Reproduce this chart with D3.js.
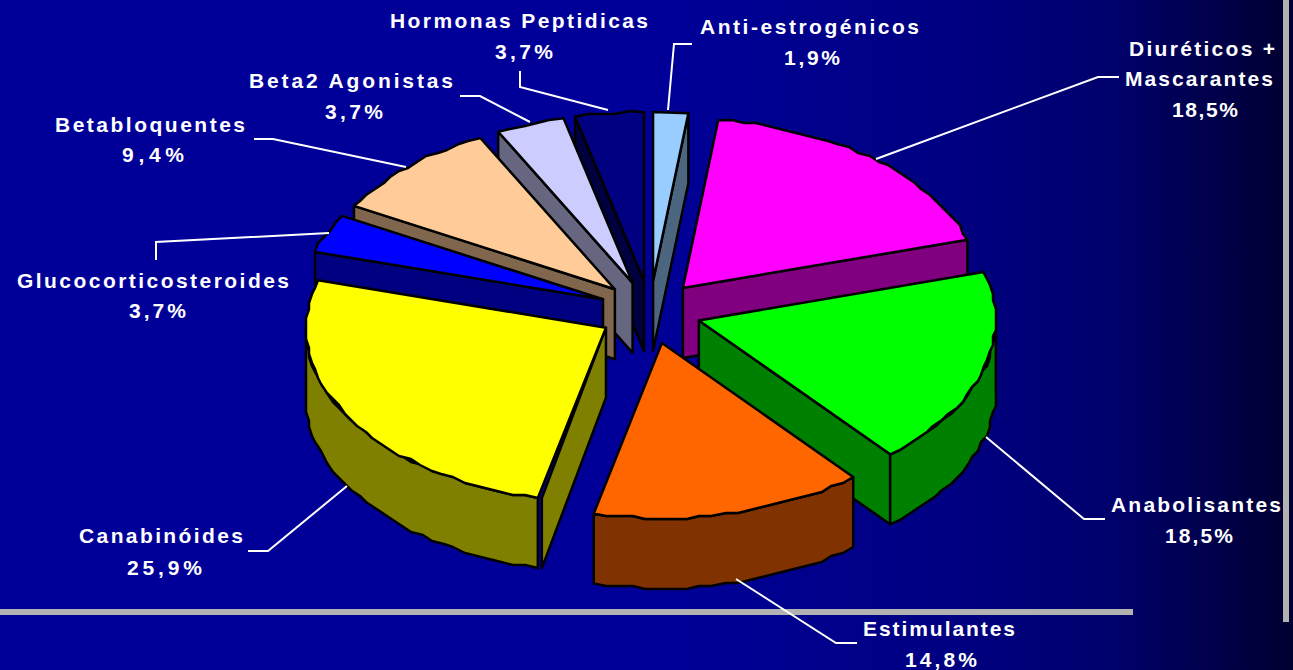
<!DOCTYPE html>
<html><head><meta charset="utf-8">
<style>html,body{margin:0;padding:0;background:#000099;overflow:hidden}svg{display:block}
text{font-family:"Liberation Sans",Arial,sans-serif;font-weight:bold;font-size:21px;fill:#fff}</style>
<script src="https://cdn.jsdelivr.net/npm/d3@7/dist/d3.min.js"></script>
</head><body><svg id="c" width="1293" height="670"></svg>
<script>
// Data, clockwise from 12 o'clock
const categories = ["Anti-estrogénicos","Diuréticos + Mascarantes","Anabolisantes","Estimulantes","Canabinóides","Glucocorticosteroides","Betabloquentes","Beta2 Agonistas","Hormonas Peptidicas"];
const values = [1.9,18.5,18.5,14.8,25.9,3.7,9.4,3.7,3.7];
const topColors = ["#99CCFF","#FF00FF","#00FF00","#FF6600","#FFFF00","#0000FF","#FFCC99","#CCCCFF","#000080"];
const sideColors = ["#4D6680","#800080","#008000","#803300","#808000","#000080","#80664D","#666680","#000040"];
// Painter's order: indices back to front
const paintOrder = [8,7,6,5,4,0,1,2,3];

// Layout
const W=1293,H=670, cx=650, cy=311, rxLeft=300, rxRight=297, ryBack=169, ryFront=175,
      explodeX=51, explodeBack=30, explodeFront=33, depth=70, grid=3, stepDeg=2.5;
const labelLines = [ // per category: [text-left, width, baseline] per line
 [[700,219,34],[784,56,65]],
 [[1129,146,56],[1125,148,86],[1172,66,117]],
 [[1111,170,512],[1165,68,543]],
 [[863,152,636],[905,72,667]],
 [[79,164,543],[127,75,575]],
 [[17,272,288],[129,57,318]],
 [[55,190,132],[122,62,162]],
 [[249,204,88],[325,58,119]],
 [[390,258,28],[495,58,59]]
];
const leaders = [
 [[668,110],[674,44],[692,44]],
 [[876,159],[1098,77],[1119,77]],
 [[986,437],[1084,519],[1105,519]],
 [[736,579],[836,643],[857,643]],
 [[347,486],[268,551],[248,551]],
 [[329,233],[156,242],[156,260]],
 [[406,167],[273,139],[254,139]],
 [[530,122],[480,96],[460,96]],
 [[608,110],[520,87],[520,71]]
];

const svg=d3.select("#c");
const defs=svg.append("defs");
const g=defs.append("linearGradient").attr("id","bg").attr("x1",0).attr("x2",1).attr("y1",0).attr("y2",0);
[[0,"#000099"],[0.5,"#000099"],[0.75,"#000080"],[0.86,"#00006C"],[1,"#000030"]].forEach(s=>g.append("stop").attr("offset",s[0]).attr("stop-color",s[1]));
svg.append("rect").attr("width",W).attr("height",H).attr("fill","url(#bg)");
svg.append("rect").attr("x",0).attr("y",609).attr("width",1133).attr("height",6).attr("fill","#B2B2B2");
svg.append("rect").attr("x",1283).attr("y",0).attr("width",6).attr("height",622).attr("fill","#B2B2B2");

const arcs=d3.pie().sort(null).value(d=>d).startAngle(0).endAngle(2*Math.PI)(values);
const line=d3.line().curve(d3.curveLinear);
const q=v=>Math.round(v/grid)*grid;

function rim(o,a){
  const s=Math.sin(a), c=Math.cos(a);
  return [o[0]+(s>0?rxRight:rxLeft)*s, o[1]-(c>0?ryBack:ryFront)*c];
}
function arcPts(o,a0,a1){
  if(a1-a0<0.15) return [rim(o,a0),rim(o,a1)];
  const n=Math.max(1,Math.round((a1-a0)*180/Math.PI/stepDeg)), pts=[rim(o,a0)];
  for(let i=1;i<n;i++){const p=rim(o,a0+(a1-a0)*i/n); pts.push([q(p[0]),q(p[1])]);}
  pts.push(rim(o,a1));
  return pts;
}
const down=p=>[p[0],p[1]+depth];
const layer=svg.append("g").attr("stroke","#000").attr("stroke-width",2.5).attr("stroke-linejoin","round");

paintOrder.forEach(i=>{
  const d=arcs[i], a0=d.startAngle, a1=d.endAngle, m=(a0+a1)/2, cm=Math.cos(m);
  const o=[cx+explodeX*Math.sin(m), cy-(cm>0?explodeBack:explodeFront)*cm];
  const top=topColors[i], side=sideColors[i];
  // radial walls
  if(a0>Math.PI){
    const gap=(a0<1.5*Math.PI)?4:0, r=rim(o,a0), s=[r[0]+gap,r[1]];
    layer.append("path").attr("d",line([o,s,down(s),down(o)])+"Z").attr("fill",side);
  }
  if(a1<Math.PI){
    const r=rim(o,a1);
    layer.append("path").attr("d",line([o,r,down(r),down(o)])+"Z").attr("fill",side);
  }
  // outer wall (front half of the rim)
  const f0=Math.max(a0,Math.PI/2), f1=Math.min(a1,1.5*Math.PI);
  if(f1>f0){
    const t=arcPts(o,f0,f1);
    layer.append("path").attr("d",line(t.concat(t.map(down).reverse()))+"Z").attr("fill",side);
  }
  // top face
  layer.append("path").attr("d",line([o].concat(arcPts(o,a0,a1)))+"Z").attr("fill",top);
});

const leaderLayer=svg.append("g").attr("fill","none").attr("stroke","#fff").attr("stroke-width",2);
leaders.forEach(l=>leaderLayer.append("path").attr("d",line(l)));

const labels=svg.append("g");
categories.forEach((c,i)=>{
  const pct=values[i].toFixed(1).replace(".",",")+"%";
  const names=c==="Diuréticos + Mascarantes"?["Diuréticos +","Mascarantes"]:[c];
  names.concat([pct]).forEach((t,k)=>{
    const L=labelLines[i][k];
    labels.append("text").attr("x",L[0]).attr("y",L[2]).attr("textLength",L[1]).attr("lengthAdjust","spacing").text(t);
  });
});
</script></body></html>
